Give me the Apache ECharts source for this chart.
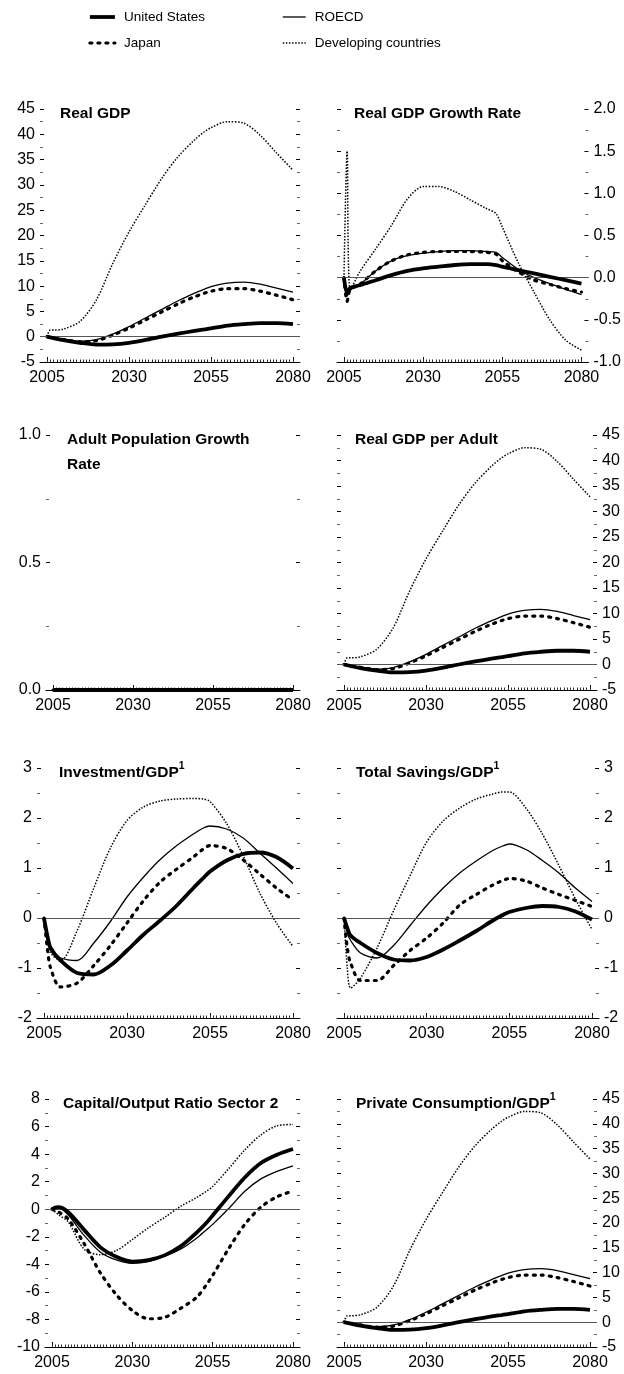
<!DOCTYPE html>
<html><head><meta charset="utf-8">
<script src="https://cdn.jsdelivr.net/npm/echarts@6/dist/echarts.min.js"></script>
<style>html,body{margin:0;padding:0;background:#fff}#c{width:624px;height:1374px}</style>
</head><body><div id="c"></div>
<script>
// ---------------- DATA ----------------
const years = [2005, 2006, 2007, 2010, 2015, 2020, 2025, 2030, 2035, 2040, 2045, 2050, 2053, 2055, 2060, 2065, 2070, 2075, 2080];
const seriesNames = ['United States', 'Japan', 'ROECD', 'Developing countries'];
const xTickYears = [2005, 2030, 2055, 2080];

// Real GDP (also Real GDP per Adult and Private Consumption/GDP, which read identically)
const gdpUS = [0, -0.15, -0.3, -0.7, -1.2, -1.55, -1.5, -1.2, -0.65, 0.0, 0.6, 1.15, 1.45, 1.65, 2.2, 2.5, 2.7, 2.7, 2.5];
const gdpJP = [0, -0.1, -0.2, -0.55, -1.0, -0.8, 0.3, 1.7, 3.3, 4.9, 6.5, 7.9, 8.6, 9.0, 9.5, 9.5, 9.0, 8.2, 7.3];
const gdpRO = [0, -0.1, -0.2, -0.5, -0.9, -0.6, 0.5, 2.0, 3.7, 5.4, 7.1, 8.6, 9.4, 9.9, 10.6, 10.8, 10.4, 9.6, 8.8];
const gdpDC = [0, 1.3, 1.3, 1.5, 3.0, 7.2, 14.4, 20.7, 26.1, 31.3, 35.6, 38.9, 40.5, 41.3, 42.5, 42.2, 39.8, 36.3, 32.9];

// Real GDP Growth Rate
const grUS = [0, -0.18, -0.12, -0.09, -0.03, 0.03, 0.08, 0.11, 0.13, 0.15, 0.16, 0.16, 0.15, 0.13, 0.09, 0.05, 0.01, -0.03, -0.07];
const grJP = [0, -0.28, -0.14, -0.08, 0.08, 0.2, 0.27, 0.3, 0.31, 0.31, 0.31, 0.3, 0.28, 0.2, 0.07, -0.03, -0.08, -0.13, -0.17];
const grRO = [0, -0.22, -0.15, -0.08, 0.08, 0.2, 0.26, 0.29, 0.31, 0.32, 0.32, 0.31, 0.3, 0.24, 0.1, 0.0, -0.07, -0.14, -0.2];
const grDC = [0, 1.5, -0.15, 0.07, 0.34, 0.62, 0.93, 1.08, 1.08, 1.02, 0.92, 0.82, 0.76, 0.6, 0.18, -0.17, -0.5, -0.74, -0.86];

// Adult Population Growth Rate
const popUS = [0, 0, 0, 0, 0, 0, 0, 0, 0, 0, 0, 0, 0, 0, 0, 0, 0, 0, 0];
const popJP = [0, 0, 0, 0, 0, 0, 0, 0, 0, 0, 0, 0, 0, 0, 0, 0, 0, 0, 0];
const popRO = [0, 0, 0, 0, 0, 0, 0, 0, 0, 0, 0, 0, 0, 0, 0, 0, 0, 0, 0];
const popDC = [0, 0, 0, 0, 0, 0, 0, 0, 0, 0, 0, 0, 0, 0, 0, 0, 0, 0, 0];

// Investment/GDP
const invUS = [0, -0.35, -0.6, -0.85, -1.1, -1.13, -0.95, -0.65, -0.33, -0.05, 0.25, 0.6, 0.8, 0.93, 1.15, 1.28, 1.31, 1.22, 0.99];
const invJP = [0, -0.6, -1.0, -1.38, -1.3, -0.95, -0.55, -0.1, 0.35, 0.72, 0.98, 1.22, 1.38, 1.45, 1.39, 1.16, 0.88, 0.6, 0.36];
const invRO = [0, -0.4, -0.65, -0.8, -0.85, -0.5, -0.07, 0.42, 0.82, 1.17, 1.45, 1.68, 1.8, 1.84, 1.78, 1.6, 1.3, 1.0, 0.69];
const invDC = [0, -0.4, -0.7, -0.85, -0.25, 0.6, 1.4, 1.95, 2.22, 2.34, 2.38, 2.39, 2.38, 2.33, 1.89, 1.24, 0.5, -0.1, -0.57];

// Total Savings/GDP
const savUS = [0, -0.2, -0.35, -0.5, -0.7, -0.83, -0.85, -0.78, -0.63, -0.45, -0.26, -0.05, 0.06, 0.12, 0.2, 0.24, 0.22, 0.13, -0.03];
const savJP = [0, -0.6, -0.9, -1.25, -1.25, -0.95, -0.65, -0.4, -0.1, 0.26, 0.47, 0.66, 0.75, 0.79, 0.74, 0.6, 0.47, 0.35, 0.23];
const savRO = [0, -0.3, -0.45, -0.7, -0.8, -0.55, -0.15, 0.25, 0.6, 0.9, 1.14, 1.35, 1.44, 1.48, 1.37, 1.15, 0.9, 0.6, 0.33];
const savDC = [0, -1.0, -1.4, -1.2, -0.6, 0.15, 0.85, 1.52, 1.94, 2.2, 2.38, 2.48, 2.52, 2.52, 2.2, 1.68, 1.05, 0.38, -0.23];

// Capital/Output Ratio Sector 2
const capUS = [0, 0.12, 0.15, -0.2, -1.5, -2.75, -3.45, -3.8, -3.7, -3.35, -2.7, -1.7, -1.0, -0.45, 0.95, 2.3, 3.35, 3.95, 4.37];
const capJP = [0, -0.1, -0.2, -0.7, -2.5, -4.6, -6.2, -7.35, -7.95, -7.85, -7.2, -6.4, -5.5, -4.8, -2.85, -1.1, 0.15, 0.9, 1.32];
const capRO = [0, 0.08, 0.1, -0.4, -1.9, -3.1, -3.68, -3.93, -3.8, -3.4, -2.9, -2.1, -1.5, -1.1, 0.05, 1.3, 2.2, 2.75, 3.15];
const capDC = [0, -0.2, -0.4, -0.9, -2.9, -3.3, -3.0, -2.2, -1.35, -0.6, 0.2, 0.85, 1.3, 1.65, 2.95, 4.3, 5.4, 6.05, 6.15];

// ---------------- FONTS ----------------
function hasFont(f) {
  const c = document.createElement('canvas').getContext('2d');
  const s = 'abcdefghijklmnopqrstuvwxyzABCDEFGHIJ0123456789';
  c.font = '40px monospace'; const w1 = c.measureText(s).width;
  c.font = "40px '" + f + "', monospace"; const w2 = c.measureText(s).width;
  return w1 !== w2;
}
const narrow = hasFont('Liberation Sans Narrow');
const FONT = narrow ? "'Liberation Sans Narrow', sans-serif" : "'Liberation Sans', Arial, sans-serif";
const TICK_FS = narrow ? 18 : 16, TITLE_FS = narrow ? 19 : 15.5, LEG_FS = narrow ? 16 : 13.5, SUP_FS = narrow ? 12 : 10.5;

// ---------------- LAYOUT ----------------
const panels = [
  { title: '{a|Real GDP}', data: [gdpUS, gdpJP, gdpRO, gdpDC], l: 40, r: 300, t: 109, b: 362, min: -5, max: 45, step: 5, side: 'left', tx: 55, dec: 0, zero: true },
  { title: '{a|Real GDP Growth Rate}', data: [grUS, grJP, grRO, grDC], l: 337, r: 590, t: 109, b: 362, min: -1, max: 2, step: 0.5, side: 'right', tx: 349, dec: 1, zero: true },
  { title: '{a|Adult Population Growth}\n{a|Rate}', data: [popUS, popJP, popRO, popDC], l: 46, r: 300, t: 435, b: 690, min: 0, max: 1, step: 0.5, side: 'left', tx: 62, dec: 1, zero: false },
  { title: '{a|Real GDP per Adult}', data: [gdpUS, gdpJP, gdpRO, gdpDC], l: 337, r: 597, t: 435, b: 690, min: -5, max: 45, step: 5, side: 'right', tx: 350, dec: 0, zero: true },
  { title: '{a|Investment/GDP}{s|1}', data: [invUS, invJP, invRO, invDC], l: 37, r: 300, t: 768, b: 1018, min: -2, max: 3, step: 1, side: 'left', tx: 54, dec: 0, zero: true },
  { title: '{a|Total Savings/GDP}{s|1}', data: [savUS, savJP, savRO, savDC], l: 337, r: 599, t: 768, b: 1018, min: -2, max: 3, step: 1, side: 'right', tx: 351, dec: 0, zero: true },
  { title: '{a|Capital/Output Ratio Sector 2}', data: [capUS, capJP, capRO, capDC], l: 45, r: 300, t: 1099, b: 1347, min: -10, max: 8, step: 2, side: 'left', tx: 58, dec: 0, zero: true },
  { title: '{a|Private Consumption/GDP}{s|1}', data: [gdpUS, gdpJP, gdpRO, gdpDC], l: 337, r: 597, t: 1099, b: 1347, min: -5, max: 45, step: 5, side: 'right', tx: 351, dec: 0, zero: true }
];

const yearlyTicks = [];
for (let y = 2005; y <= 2080; y++) yearlyTicks.push(y);

const styles = [
  { color: '#000', width: 3.8, type: 'solid', cap: 'butt', z: 5 },
  { color: '#000', width: 3.2, type: [2, 6], cap: 'round', z: 4 },
  { color: '#000', width: 1.3, type: 'solid', cap: 'butt', z: 3 },
  { color: '#000', width: 1.5, type: [1.5, 1.6], cap: 'butt', z: 2 }
];

const grid = [], xAxis = [], yAxis = [], series = [], title = [];
panels.forEach((p, i) => {
  const W = p.r - p.l;
  const ppy = (W - 14) / 75;
  const xmin = 2005 - 7 / ppy, xmax = 2080 + 7 / ppy;
  grid.push({ left: p.l, top: p.t, width: W, height: p.b - p.t });
  xAxis.push({
    type: 'value', gridIndex: i, position: 'bottom', min: xmin, max: xmax,
    axisLine: { show: true, onZero: false, lineStyle: { color: '#000', width: 1 } },
    axisTick: { show: true, inside: true, length: 5, customValues: xTickYears, lineStyle: { color: '#000' } },
    axisLabel: { show: true, customValues: xTickYears, fontSize: TICK_FS, fontFamily: FONT, color: '#000', margin: 8, formatter: v => String(v) },
    splitLine: { show: false }
  });
  xAxis.push({
    type: 'value', gridIndex: i, position: 'bottom', min: xmin, max: xmax,
    axisLine: { show: false, onZero: false },
    axisTick: { show: true, inside: true, length: 2.5, customValues: yearlyTicks, lineStyle: { color: '#333', width: 1 } },
    axisLabel: { show: false },
    splitLine: { show: false }
  });
  ['left', 'right'].forEach(pos => {
    yAxis.push({
      type: 'value', gridIndex: i, position: pos, min: p.min, max: p.max, interval: p.step,
      axisLine: { show: false, onZero: false },
      axisTick: { show: true, inside: true, length: 4, lineStyle: { color: '#000' } },
      minorTick: { show: true, splitNumber: 2, length: 3, lineStyle: { color: '#666' } },
      axisLabel: { show: p.side === pos, fontSize: TICK_FS, fontFamily: FONT, color: '#000', margin: 5, formatter: v => v.toFixed(p.dec) },
      splitLine: { show: false }
    });
  });
  title.push({
    text: p.title, left: p.tx, top: p.t - 12.5,
    textStyle: {
      rich: {
        a: { fontSize: TITLE_FS, fontWeight: 'bold', fontFamily: FONT, color: '#000', lineHeight: 25 },
        s: { fontSize: SUP_FS, fontWeight: 'bold', fontFamily: FONT, color: '#000', lineHeight: 14, verticalAlign: 'top' }
      }
    }
  });
  p.data.forEach((arr, si) => {
    const st = styles[si];
    const s = {
      type: 'line', name: seriesNames[si], xAxisIndex: 2 * i, yAxisIndex: 2 * i,
      data: years.map((y, j) => [y, arr[j]]),
      symbol: 'none', showSymbol: false, smooth: 0.3, z: st.z,
      lineStyle: { color: st.color, width: st.width, type: st.type, cap: st.cap },
      itemStyle: { color: '#000' }
    };
    if (si === 0 && p.zero) {
      s.markLine = { silent: true, symbol: ['none', 'none'], label: { show: false }, animation: false,
        lineStyle: { color: '#555', width: 1, type: 'solid' }, data: [{ yAxis: 0 }] };
    }
    series.push(s);
  });
});

const legendItem = si => ({
  name: seriesNames[si],
  lineStyle: { color: '#000', width: styles[si].width, type: styles[si].type, cap: styles[si].cap }
});
const legendBase = {
  orient: 'vertical', top: 5, itemWidth: 25, itemHeight: 14, itemGap: 12, selectedMode: false,
  itemStyle: { opacity: 0, borderWidth: 0 },
  textStyle: { fontSize: LEG_FS, fontFamily: FONT, color: '#000', padding: [0, 0, 0, 4] }
};
const option = {
  animation: false,
  backgroundColor: '#fff',
  title, grid, xAxis, yAxis, series,
  legend: [
    Object.assign({}, legendBase, { left: 83, data: [legendItem(0), legendItem(1)] }),
    Object.assign({}, legendBase, { left: 277, itemWidth: 23, data: [legendItem(2), legendItem(3)] })
  ]
};
const chart = echarts.init(document.getElementById('c'), null, { renderer: 'canvas' });
chart.setOption(option);
</script>
</body></html>
